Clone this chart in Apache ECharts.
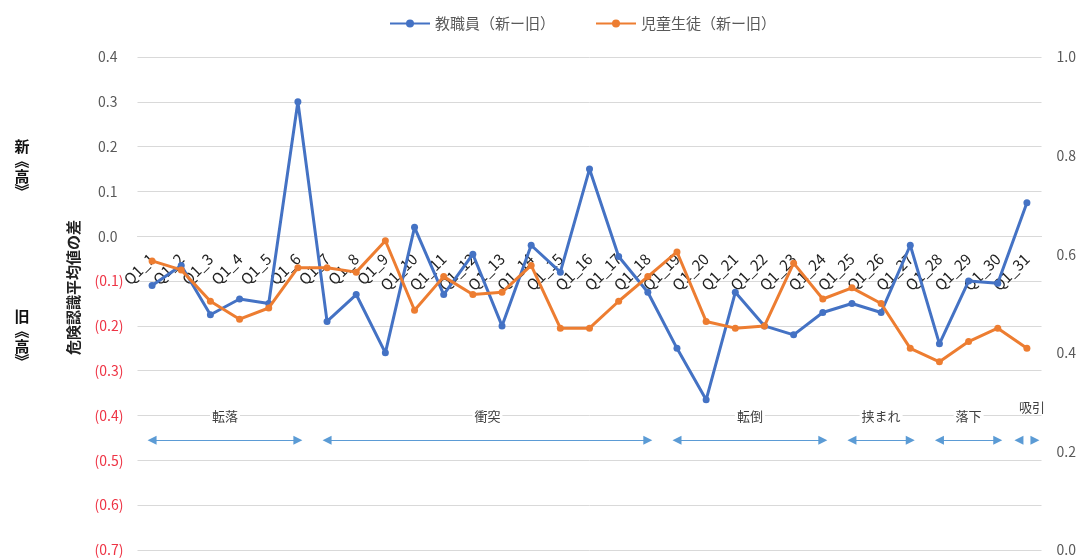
<!DOCTYPE html>
<html lang="ja">
<head>
<meta charset="utf-8">
<title>危険認識平均値の差</title>
<script src="https://cdn.jsdelivr.net/npm/echarts@6/dist/echarts.min.js"></script>
<style>
  html, body { margin: 0; padding: 0; background: #ffffff; }
  #chart { width: 1084px; height: 560px; }
</style>
</head>
<body>
<div id="chart"></div>
<script>
// Question items Q1_1 … Q1_31
const categories = [
  'Q1_1','Q1_2','Q1_3','Q1_4','Q1_5','Q1_6','Q1_7','Q1_8','Q1_9','Q1_10',
  'Q1_11','Q1_12','Q1_13','Q1_14','Q1_15','Q1_16','Q1_17','Q1_18','Q1_19','Q1_20',
  'Q1_21','Q1_22','Q1_23','Q1_24','Q1_25','Q1_26','Q1_27','Q1_28','Q1_29','Q1_30','Q1_31'
];

// Difference of mean risk-recognition score (new − old)
const staffDiff = [
  -0.11, -0.065, -0.175, -0.14, -0.15, 0.30, -0.19, -0.13, -0.26, 0.02,
  -0.13, -0.04, -0.20, -0.02, -0.08, 0.15, -0.045, -0.125, -0.25, -0.365,
  -0.125, -0.20, -0.22, -0.17, -0.15, -0.17, -0.02, -0.24, -0.10, -0.105, 0.075
];
const pupilDiff = [
  -0.055, -0.075, -0.145, -0.185, -0.16, -0.07, -0.07, -0.08, -0.01, -0.165,
  -0.09, -0.13, -0.125, -0.065, -0.205, -0.205, -0.145, -0.09, -0.035, -0.19,
  -0.205, -0.20, -0.06, -0.14, -0.115, -0.15, -0.25, -0.28, -0.235, -0.205, -0.25
];

const seriesNames = ['教職員（新ー旧）', '児童生徒（新ー旧）'];

// Accident-type groups and the questions each one covers
const groupNames = ['転落', '衝突', '転倒', '挟まれ', '落下', '吸引'];
const groupFirst = ['Q1_1', 'Q1_7', 'Q1_19', 'Q1_25', 'Q1_28', 'Q1_31'];
const groupLast  = ['Q1_6', 'Q1_18', 'Q1_24', 'Q1_27', 'Q1_30', 'Q1_31'];

// Tick labels
const leftTicks = { min: -0.7, max: 0.4, step: 0.1 };
const rightTicks = { min: 0, max: 1.0, step: 0.2 };

const FONT = '"Noto Sans CJK JP", "Noto Sans", sans-serif';
const ARROW_LEVEL = -0.455;
const ARROW_COLOR = '#5b9bd5';

// Double-headed arrows under each group (a span, or a pair of heads for a single item)
const spanLines = [];
const singleMarks = [];
groupNames.forEach((name, i) => {
  const a = categories.indexOf(groupFirst[i]);
  const b = categories.indexOf(groupLast[i]);
  if (a !== b) {
    spanLines.push([
      { name: name, coord: [a, ARROW_LEVEL] },
      { coord: [b, ARROW_LEVEL] }
    ]);
  } else {
    singleMarks.push({ coord: [a, ARROW_LEVEL], symbolRotate: 90, symbolOffset: [-8, 0], label: { show: false } });
    singleMarks.push({ coord: [a, ARROW_LEVEL], symbolRotate: -90, symbolOffset: [8, 0], label: { show: false } });
    singleMarks.push({
      coord: [a, ARROW_LEVEL], symbolSize: 0,
      label: { show: true, formatter: name, offset: [5, -33], color: '#404040', fontSize: 13, fontFamily: FONT }
    });
  }
});

// Vertical side captions: upright characters, brackets turned to read top-down
function sideCaption(first, top) {
  const x = 22;
  const font = 'bold 15px ' + FONT;
  const base = { fill: '#111111', font: font, align: 'center', verticalAlign: 'middle' };
  return [
    { type: 'text', x: x, y: top, style: Object.assign({ text: first }, base) },
    { type: 'text', x: x, y: top + 15, rotation: -Math.PI / 2, style: Object.assign({ text: '《' }, base) },
    { type: 'text', x: x, y: top + 30, style: Object.assign({ text: '高' }, base) },
    { type: 'text', x: x, y: top + 45, rotation: -Math.PI / 2, style: Object.assign({ text: '》' }, base) }
  ];
}

const chart = echarts.init(document.getElementById('chart'), null, { renderer: 'canvas' });

chart.setOption({
  backgroundColor: '#ffffff',
  animation: false,
  textStyle: { fontFamily: FONT },
  legend: {
    data: seriesNames,
    top: 11,
    left: 384,
    itemWidth: 40,
    itemHeight: 10,
    itemGap: 40,
    textStyle: { fontSize: 15, color: '#595959', fontFamily: FONT }
  },
  grid: { left: 137.5, right: 42.5, top: 57, bottom: 10, containLabel: false, outerBoundsMode: 'none' },
  xAxis: {
    type: 'category',
    data: categories,
    boundaryGap: true,
    position: 'bottom',
    offset: 0,
    axisLine: { show: true, onZero: false, lineStyle: { color: '#d9d9d9', width: 1 } },
    axisTick: { show: false },
    axisLabel: { interval: 0, rotate: 45, margin: 20, fontSize: 15, color: '#222222', fontFamily: FONT }
  },
  yAxis: [
    {
      type: 'value',
      position: 'left',
      min: leftTicks.min, max: leftTicks.max, interval: leftTicks.step,
      name: '危険認識平均値の差',
      nameLocation: 'middle',
      nameRotate: 90,
      nameGap: 57,
      nameTextStyle: { fontSize: 15, fontWeight: 'bold', color: '#222222', fontFamily: FONT, padding: [0, 0, 0, 32] },
      axisLine: { show: false },
      axisTick: { show: false },
      splitLine: { lineStyle: { color: '#d9d9d9', width: 1 } },
      axisLabel: {
        margin: 14,
        formatter: v => v < -1e-9 ? '{neg|(' + Math.abs(v).toFixed(1) + ')}' : '{pos|' + Math.abs(v).toFixed(1) + '}',
        rich: {
          pos: { color: '#595959', fontSize: 14, fontFamily: FONT, padding: [0, 6, 0, 0] },
          neg: { color: '#ee3344', fontSize: 14, fontFamily: FONT }
        }
      }
    },
    {
      type: 'value',
      position: 'right',
      min: rightTicks.min, max: rightTicks.max, interval: rightTicks.step,
      axisLine: { show: false },
      axisTick: { show: false },
      splitLine: { show: false },
      axisLabel: { margin: 15, fontSize: 14, color: '#595959', fontFamily: FONT, formatter: v => v.toFixed(1) }
    }
  ],
  series: [
    {
      name: seriesNames[0],
      type: 'line',
      data: staffDiff,
      yAxisIndex: 0,
      color: '#4472c4',
      symbol: 'circle',
      symbolSize: 7,
      lineStyle: { width: 3 },
      z: 3,
      markLine: {
        silent: true,
        symbol: ['triangle', 'triangle'],
        symbolSize: [9, 9],
        lineStyle: { color: ARROW_COLOR, width: 1.2, type: 'solid' },
        label: {
          show: true, position: 'middle', distance: 18,
          formatter: p => p.name,
          color: '#404040', fontSize: 13, fontFamily: FONT,
          backgroundColor: '#ffffff', padding: [0, 2]
        },
        emphasis: { disabled: true },
        data: spanLines
      },
      markPoint: {
        silent: true,
        symbol: 'triangle',
        symbolSize: 9,
        itemStyle: { color: ARROW_COLOR },
        data: singleMarks
      }
    },
    {
      name: seriesNames[1],
      type: 'line',
      data: pupilDiff,
      yAxisIndex: 0,
      color: '#ed7d31',
      symbol: 'circle',
      symbolSize: 7,
      lineStyle: { width: 3 },
      z: 4
    }
  ],
  graphic: sideCaption('新', 146).concat(sideCaption('旧', 316))
});

// Lift the category axis so it runs along the zero line of the left value axis
const zeroY = chart.convertToPixel({ yAxisIndex: 0 }, 0);
const baseY = chart.convertToPixel({ yAxisIndex: 0 }, leftTicks.min);
chart.setOption({ xAxis: { offset: zeroY - baseY } });
</script>
</body>
</html>
